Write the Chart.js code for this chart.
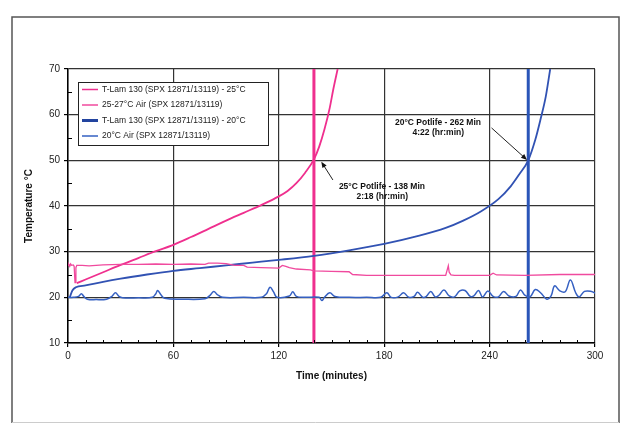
<!DOCTYPE html>
<html>
<head>
<meta charset="utf-8">
<script src="https://cdn.jsdelivr.net/npm/chart.js@4/dist/chart.umd.min.js"></script>
<style>
html,body{margin:0;padding:0;background:#fff;}
#c{display:block;}
</style>
</head>
<body>
<canvas id="c" width="623" height="423"></canvas>
<script>
// ---- Data (minutes, °C) ----
const xTicks = [0, 60, 120, 180, 240, 300];
const yTicks = [10, 20, 30, 40, 50, 60, 70];
const seriesNames = [
  'T-Lam 130 (SPX 12871/13119) - 25°C',
  '25-27°C Air (SPX 12871/13119)',
  'T-Lam 130 (SPX 12871/13119) - 20°C',
  '20°C Air (SPX 12871/13119)'
];
const tlam25 = [[5,23.1],[10,23.9],[20,25.5],[30,27.1],[40,28.6],[50,30.1],[60,31.5],[70,33.2],[80,35.0],[90,36.8],[100,38.5],[110,40.2],[120,42.1],[125,43.3],[130,45.0],[135,47.3],[140,50.2],[143,53.0],[146,56.8],[149,61.5],[151,65.5],[153.5,70]];
const warmAir = [[0,27.0],[0.5,27.2],[1,26.8],[1.5,27.3],[2,27.0],[3,27.1],[3.5,26.8],[4,23.2],[4.5,26.5],[5,27.0],[8,27.0],[12,26.9],[20,27.1],[30,27.2],[40,27.2],[50,27.3],[60,27.2],[70,27.3],[78,27.2],[80,27.5],[85,27.5],[90,27.4],[95,27.0],[100,27.0],[102,26.6],[110,26.5],[120,26.4],[122,27.0],[124,26.8],[126,26.5],[130,26.2],[138,26.0],[140,25.8],[150,25.7],[160,25.6],[162,25.0],[170,24.8],[200,24.8],[215,24.8],[216.5,26.9],[217,25.5],[218,24.9],[220,24.8],[240,24.8],[242,25.3],[244,24.9],[260,24.8],[280,25.0],[300,25.0]];
const tlam20 = [[1,20.0],[2.5,21.5],[4.5,22.2],[10,22.6],[20,23.4],[30,24.1],[45,25.0],[60,25.8],[75,26.4],[90,27.0],[105,27.6],[120,28.2],[140,29.1],[160,30.3],[180,31.7],[200,33.5],[215,35.2],[225,36.8],[235,38.8],[245,41.5],[252,44.3],[257,47.0],[262,50.0],[266,54.5],[269,59.0],[272,64.0],[274.5,70]];
const coolAir = [[0,20],[3,20],[6,20.2],[7.6,20.8],[9,20.2],[11,19.6],[16,19.5],[22,19.6],[25,20.2],[27,21.0],[29,20.2],[31,19.9],[40,19.9],[48,20.0],[50,20.8],[51,21.5],[53,20.5],[55,19.8],[65,19.6],[78,19.7],[81,20.5],[83,21.3],[85,20.6],[88,20.0],[100,20.0],[110,20.0],[113,20.8],[115,22.2],[117,21.2],[119,20.0],[126,20.3],[128,21.2],[130,20.2],[135,20.0],[143,20.0],[144.5,19.3],[146,20.0],[149,21.0],[152,20.2],[160,20.0],[170,20.0],[178,20.0],[181.5,21.0],[184,20.0],[188,20.1],[191,21.0],[194,20.0],[197,20.2],[199,21.1],[202,20.0],[204,20.2],[206.5,21.3],[209,20.1],[211,20.4],[214,21.6],[217,20.3],[220,20.1],[223,21.4],[226,21.5],[229,20.2],[231,20.3],[233.7,21.5],[236,20.1],[239,21.4],[242,20.2],[245,20.1],[248,21.3],[251,20.3],[255,20.2],[257.6,21.6],[260,20.5],[263,20.1],[266,21.7],[269,21.0],[272.6,19.6],[275,20.3],[277,22.5],[280,21.4],[283,21.2],[286,23.8],[289,21.0],[291,20.1],[294,21.3],[298,21.3],[300,20.9]];
const potlife25 = [[140,10],[140,70]];
const potlife20 = [[262,10],[262,70]];
const notes = [
  {lines:['25°C Potlife - 138 Min','2:18 (hr:min)'], at:[[178.7,44.2],[178.9,42.0]], from:[150.8,45.7], to:[144.2,49.7]},
  {lines:['20°C Potlife - 262 Min','4:22 (hr:min)'], at:[[210.6,58.2],[210.8,56.0]], from:[241.1,57.1], to:[261.3,50.1]}
];

const PINK = '#ef2f8e', PINK_L = '#f04a9e', BLUE = '#3152b3', BLUE_L = '#3560c2', BLUE_D = '#22449f', BLUE_V = '#2a55b8';
const pts = a => a.map(p => ({x:p[0], y:p[1]}));
const FONT = "'Liberation Sans', Arial, sans-serif";
Chart.defaults.font.family = FONT;

const framePlugin = {
  id:'frame',
  beforeDraw(chart){
    const c = chart.ctx; c.save();
    c.fillStyle = '#fff'; c.fillRect(0,0,chart.width,chart.height);
    c.strokeStyle = '#555'; c.lineWidth = 1.5;
    c.beginPath(); c.moveTo(12,423); c.lineTo(12,17); c.lineTo(619,17); c.lineTo(619,423); c.stroke();
    c.strokeStyle = '#ccc'; c.lineWidth = 1;
    c.beginPath(); c.moveTo(12,422.5); c.lineTo(619,422.5); c.stroke();
    c.restore();
  },
  afterDraw(chart){
    const c = chart.ctx, xs = chart.scales.x, ys = chart.scales.y, a = chart.chartArea;
    c.save();
    c.strokeStyle = '#000'; c.lineWidth = 1;
    for (let m = 10; m < 300; m += 10) {
      if (m % 60 === 0) continue;
      const px = Math.round(xs.getPixelForValue(m)) + 0.5;
      c.beginPath(); c.moveTo(px, a.bottom); c.lineTo(px, a.bottom - 3); c.stroke();
    }
    for (let t = 15; t < 70; t += 10) {
      const py = Math.round(ys.getPixelForValue(t)) + 0.5;
      c.beginPath(); c.moveTo(a.left, py); c.lineTo(a.left + 4, py); c.stroke();
    }
    c.fillStyle = '#111'; c.font = 'bold 10px ' + FONT; c.textAlign = 'center'; c.textBaseline = 'middle';
    c.fillText('Time (minutes)', (a.left + a.right)/2, 376);
    c.translate(29, (a.top + a.bottom)/2); c.rotate(-Math.PI/2);
    c.fillText('Temperature °C', 0, 0);
    c.restore();
  }
};

const notesPlugin = {
  id:'notes',
  afterDatasetsDraw(chart){
    const c = chart.ctx, xs = chart.scales.x, ys = chart.scales.y;
    c.save();
    c.fillStyle = '#111'; c.strokeStyle = '#222'; c.lineWidth = 1;
    c.font = 'bold 8.5px ' + FONT; c.textAlign = 'center'; c.textBaseline = 'middle';
    notes.forEach(n => {
      n.lines.forEach((t,i) => c.fillText(t, xs.getPixelForValue(n.at[i][0]), ys.getPixelForValue(n.at[i][1])));
      const x1 = xs.getPixelForValue(n.from[0]), y1 = ys.getPixelForValue(n.from[1]);
      const x2 = xs.getPixelForValue(n.to[0]), y2 = ys.getPixelForValue(n.to[1]);
      const ang = Math.atan2(y2-y1, x2-x1);
      c.beginPath(); c.moveTo(x1,y1); c.lineTo(x2 - 4*Math.cos(ang), y2 - 4*Math.sin(ang)); c.stroke();
      c.beginPath(); c.moveTo(x2,y2);
      c.lineTo(x2 - 6*Math.cos(ang) + 2.5*Math.sin(ang), y2 - 6*Math.sin(ang) - 2.5*Math.cos(ang));
      c.lineTo(x2 - 6*Math.cos(ang) - 2.5*Math.sin(ang), y2 - 6*Math.sin(ang) + 2.5*Math.cos(ang));
      c.closePath(); c.fill();
    });
    const lx = 78.5, ly = 82.5, lw = 190, lh = 63;
    c.fillStyle = '#fff'; c.fillRect(lx, ly, lw, lh);
    c.strokeStyle = '#222'; c.lineWidth = 1; c.strokeRect(lx, ly, lw, lh);
    const rows = [89.5, 105, 120.5, 136];
    const cols = [PINK, PINK_L, BLUE_D, BLUE_L];
    const wid = [1.5, 1.5, 3, 1.5];
    c.font = '8.5px ' + FONT; c.textAlign = 'left'; c.fillStyle = '#222';
    seriesNames.forEach((name, i) => {
      c.strokeStyle = cols[i]; c.lineWidth = wid[i];
      c.beginPath(); c.moveTo(82, rows[i]); c.lineTo(98, rows[i]); c.stroke();
      c.fillText(name, 102, rows[i]);
    });
    c.restore();
  }
};

const common = {pointRadius:0, fill:false, tension:0};
new Chart(document.getElementById('c'), {
  type:'line',
  data:{ datasets:[
    Object.assign({label:seriesNames[3], data:pts(coolAir), borderColor:BLUE_L, borderWidth:1.5}, common, {tension:0.4}),
    Object.assign({label:seriesNames[1], data:pts(warmAir), borderColor:PINK_L, borderWidth:1.3}, common),
    Object.assign({label:seriesNames[2], data:pts(tlam20), borderColor:BLUE, borderWidth:1.8, cubicInterpolationMode:'monotone'}, common),
    Object.assign({label:seriesNames[0], data:pts(tlam25), borderColor:PINK, borderWidth:1.8, cubicInterpolationMode:'monotone'}, common),
    Object.assign({label:'potlife25', data:pts(potlife25), borderColor:PINK, borderWidth:3}, common),
    Object.assign({label:'potlife20', data:pts(potlife20), borderColor:BLUE_V, borderWidth:3}, common)
  ]},
  options:{
    responsive:false, animation:false, devicePixelRatio:1,
    layout:{padding:{top:69, right:28, left:0, bottom:0}},
    plugins:{legend:{display:false}, tooltip:{enabled:false}},
    scales:{
      x:{ type:'linear', min:0, max:300,
        afterFit(s){ s.height = 80; },
        afterBuildTicks(s){ s.ticks = xTicks.map(v => ({value:v})); },
        ticks:{ color:'#222', font:{size:10}, padding:3, maxRotation:0 },
        grid:{ color:'#333', lineWidth:1.2, drawTicks:true, tickLength:4, tickColor:'#000' },
        border:{ color:'#000', width:1.5 }
      },
      y:{ min:10, max:70,
        afterFit(s){ s.width = 68; },
        afterBuildTicks(s){ s.ticks = yTicks.map(v => ({value:v})); },
        ticks:{ color:'#222', font:{size:10}, padding:4 },
        grid:{ color:'#333', lineWidth:1.2, drawTicks:true, tickLength:4, tickColor:'#000' },
        border:{ color:'#000', width:1.5 }
      }
    }
  },
  plugins:[framePlugin, notesPlugin]
});
</script>
</body>
</html>
